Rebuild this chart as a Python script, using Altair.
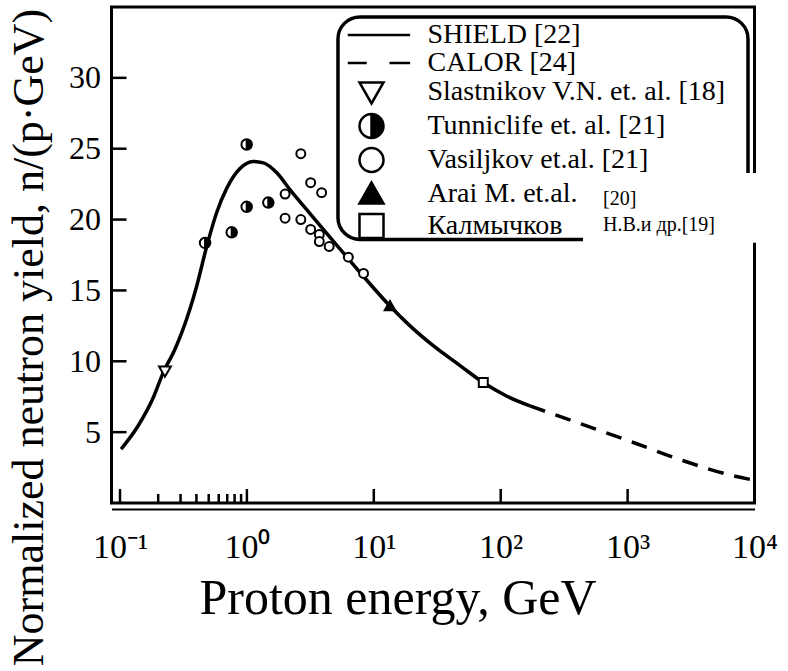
import altair as alt
import pandas as pd

SERIF = "Liberation Serif"

# ---------------- data ----------------
shield_E = [0.102, 0.139, 0.183, 0.219, 0.271, 0.306, 0.402, 0.482, 0.578, 0.693, 0.882,
            1.12, 1.35, 1.72, 2.19, 2.96, 4.0, 5.75, 8.27, 13.4, 19.3, 29.4, 47.8, 72.9, 111, 170]
shield_Y = [3.8, 5.45, 7.45, 9.2, 10.85, 12.0, 15.3, 18.1, 20.5, 22.2, 23.6,
            24.1, 24.0, 23.3, 22.1, 20.7, 19.3, 17.65, 16.0, 13.9, 12.5, 11.1, 9.7, 8.5, 7.55, 6.85]

calor_E = [170, 476, 1109, 2748, 6808, 10000]
calor_Y = [6.85, 5.44, 4.27, 2.98, 1.92, 1.6]

slastnikov_E = [0.226]
slastnikov_Y = [9.3]
tunniclife_E = [0.468, 0.759, 0.996, 0.996, 1.475]
tunniclife_Y = [18.35, 19.1, 25.3, 20.9, 21.2]
vasiljkov_E = [2.0, 2.0, 2.66, 2.66, 3.18, 3.18, 3.88, 3.72, 3.72, 4.45, 6.3, 8.3]
vasiljkov_Y = [21.8, 20.1, 24.65, 20.0, 22.6, 19.3, 21.9, 18.95, 18.45, 18.1, 17.35, 16.2]
arai_E = [13.4]
arai_Y = [13.9]
kalm_E = [72.9]
kalm_Y = [8.5]

series_names = ["SHIELD [22]", "CALOR [24]", "Slastnikov V.N. et. al. [18]",
                "Tunniclife et. al. [21]", "Vasiljkov et.al. [21]", "Arai M. et.al.", "Калмычков"]

x_major = [0.1, 1, 10, 100, 1000]
x_minor = [0.2, 0.3, 0.4, 0.5, 0.6, 0.7, 0.8, 0.9]
x_label_values = [0.1, 1, 10, 100, 1000, 10000]
x_label_texts = ["10⁻¹", "10⁰", "10¹", "10²", "10³", "10⁴"]
y_ticks = [5, 10, 15, 20, 25, 30]

note_lines = ["[20]", "Н.В.и др.[19]"]

# ---------------- styles ----------------
line_solid = "M-1.98,0L3.22,0"
line_dash = "M-1.98,0L-0.4,0M1.5,0L3.22,0"
tri_down = "M-1,-0.8L1,-0.8L0,0.95Z"
tri_up = "M0,-0.95L1,0.8L-1,0.8Z"
square = "M-1,-1L1,-1L1,1L-1,1Z"
half_circle = "M0,-1A1,1,0,1,1,0,1A1,1,0,1,1,0,-1ZM0,-1A1,1,0,0,0,0,1Z"
shape_range = [line_solid, line_dash, tri_down, half_circle, "circle", tri_up, square]
fill_range = ["transparent", "transparent", "white", "black", "white", "black", "white"]

xs = alt.Scale(type="log", domain=[0.0857, 10000], nice=False)
ys = alt.Scale(domain=[0, 35], nice=False, zero=False)

label_expr = ""
for v, t in zip(x_label_values, x_label_texts):
    label_expr += f"datum.value == {v} ? '{t}' : "
label_expr += "''"

x_axis = alt.Axis(values=x_label_values, labelExpr=label_expr, title="Proton energy, GeV",
                  offset=6, ticks=False, grid=False, domain=True, domainColor="black",
                  domainWidth=2, labelFont=SERIF, labelFontSize=34, labelColor="black",
                  labelPadding=48, labelBaseline="alphabetic", labelFlush=False,
                  labelOverlap=False, titleFont=SERIF, titleFontSize=50,
                  titleFontWeight="normal", titleColor="black", titleX=286, titleY=104,
                  titleBaseline="alphabetic")
y_axis = alt.Axis(values=y_ticks, title="Normalized neutron yield, n/(p·GeV)",
                  domain=False, ticks=False, grid=False, labelFont=SERIF, labelFontSize=32,
                  labelColor="black", labelPadding=11, titleFont=SERIF, titleFontSize=44,
                  titleFontWeight="normal", titleColor="black", titleX=-60, titleY=330,
                  titleAngle=270, titleBaseline="bottom", titleAlign="center")

leg = alt.Legend(orient="none", legendX=238, legendY=14, title=None, labelFont=SERIF,
                 labelFontSize=28, labelColor="black", labelLimit=600, symbolSize=576,
                 symbolStrokeWidth=2.5, symbolStrokeColor="black", rowPadding=0,
                 symbolOffset=8, labelOffset=42, padding=0)
shape_scale = alt.Scale(domain=series_names, range=shape_range)
fill_scale = alt.Scale(domain=series_names, range=fill_range)
stroke_scale = alt.Scale(domain=series_names, range=["black"] * len(series_names))


def xy():
    return dict(
        x=alt.X("E:Q", scale=xs, axis=x_axis),
        y=alt.Y("Y:Q", scale=ys, axis=y_axis),
    )


layers = []

# legend frame (rounded box)
frame_df = pd.DataFrame({"E": [5.22], "E2": [8889], "Y": [34.3], "Y2": [18.59]})
layers.append(alt.Chart(frame_df).mark_rect(fill="white", stroke="black", strokeWidth=3.5,
                                            cornerRadius=22).encode(
    x2="E2:Q", y2="Y2:Q", **xy()))

# curves
shield_df = pd.DataFrame({"E": shield_E, "Y": shield_Y})
layers.append(alt.Chart(shield_df).mark_line(color="black", strokeWidth=3.5,
                                             interpolate="monotone").encode(**xy()))
calor_df = pd.DataFrame({"E": calor_E, "Y": calor_Y})
layers.append(alt.Chart(calor_df).mark_line(color="black", strokeWidth=3.5,
                                            strokeDash=[16, 11], interpolate="monotone").encode(**xy()))

# experimental points
point_sets = [
    (slastnikov_E, slastnikov_Y, series_names[2], 140),
    (tunniclife_E, tunniclife_Y, series_names[3], 110),
    (vasiljkov_E, vasiljkov_Y, series_names[4], 80),
    (arai_E, arai_Y, series_names[5], 110),
    (kalm_E, kalm_Y, series_names[6], 80),
]
for E, Y, name, size in point_sets:
    df = pd.DataFrame({"E": E, "Y": Y, "series": [name] * len(E)})
    layers.append(alt.Chart(df).mark_point(size=size, strokeWidth=2, opacity=1).encode(
        shape=alt.Shape("series:N", scale=shape_scale, legend=leg),
        fill=alt.Fill("series:N", scale=fill_scale, legend=leg),
        stroke=alt.Stroke("series:N", scale=stroke_scale, legend=leg),
        **xy()))

# white patch with corrected references
patch_df = pd.DataFrame({"E": [445], "E2": [10666], "Y": [23.29], "Y2": [18.36]})
layers.append(alt.Chart(patch_df).mark_rect(fill="white").encode(
    x2="E2:Q", y2="Y2:Q", **xy()))
note_df = pd.DataFrame({"E": [640, 640], "Y": [21.06, 19.18], "t": note_lines})
layers.append(alt.Chart(note_df).mark_text(align="left", baseline="alphabetic", font=SERIF,
                                           fontSize=20, color="black").encode(
    text="t:N", **xy()))

# inward ticks
yt_df = pd.DataFrame({"Y": y_ticks})
layers.append(alt.Chart(yt_df).mark_rule(color="black", strokeWidth=2.5).encode(
    y=alt.Y("Y:Q", scale=ys, axis=y_axis), x=alt.value(0), x2=alt.value(15)))
xt_df = pd.DataFrame({"E": x_major})
layers.append(alt.Chart(xt_df).mark_rule(color="black", strokeWidth=2.5).encode(
    x=alt.X("E:Q", scale=xs, axis=x_axis), y=alt.value(496), y2=alt.value(482)))
xm_df = pd.DataFrame({"E": x_minor})
layers.append(alt.Chart(xm_df).mark_rule(color="black", strokeWidth=2.5).encode(
    x=alt.X("E:Q", scale=xs, axis=x_axis), y=alt.value(496), y2=alt.value(487)))

chart = alt.layer(*layers).properties(
    width=643, height=496,
    padding={"left": 111.5, "top": 7, "right": 33.5, "bottom": 168},
    autosize="none", background="white",
).configure_view(stroke="black", strokeWidth=3)

chart.save("out.html", embed_options={"renderer": "svg", "actions": False})
